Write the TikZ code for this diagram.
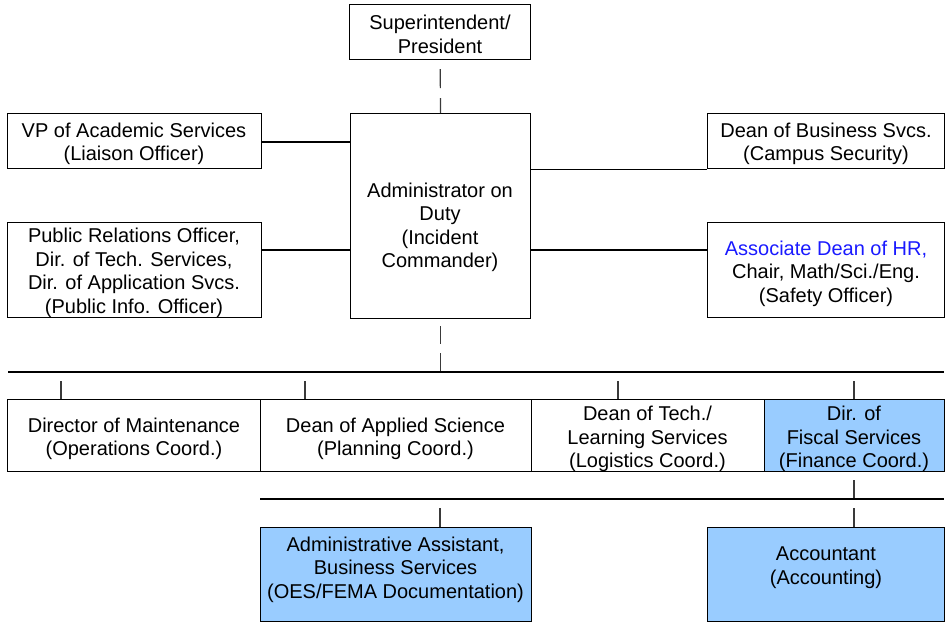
\documentclass[tikz,border=0pt]{standalone}
\usepackage{fontspec}
\setmainfont{Liberation Sans}
\definecolor{boxblue}{HTML}{99CCFF}
\definecolor{hrblue}{HTML}{1A1AFF}
\definecolor{linkgray}{HTML}{3A3A3A}
\begin{document}
\begin{tikzpicture}[x=1pt,y=-1pt,
  box/.style={draw=black,line width=1.2pt,inner sep=0pt,anchor=north west},
  bluebox/.style={box,fill=boxblue},
  txt/.style={align=center,inner sep=0pt,yshift=-2.5pt,font=\fontsize{20}{23.5}\selectfont},
  link/.style={draw=black,line width=1.2pt},
  tick/.style={draw=linkgray,line width=1.2pt}]
\useasboundingbox (0,0) rectangle (951,624);

% --- command and general staff boxes ---
\node[box,minimum width=181pt,minimum height=55pt]  (sup) at (349,4)   {};
\node[box,minimum width=180pt,minimum height=205pt] (adm) at (350,113) {};
\node[box,minimum width=254pt,minimum height=55pt]  (vp)  at (7,113)   {};
\node[box,minimum width=254pt,minimum height=95pt]  (pr)  at (7,222)   {};
\node[box,minimum width=237pt,minimum height=55pt]  (dbs) at (707,113) {};
\node[box,minimum width=237pt,minimum height=95pt]  (hr)  at (707,222) {};

% --- section chiefs ---
\node[box,minimum width=253pt,minimum height=72pt]     (ops) at (7,399)   {};
\node[box,minimum width=271pt,minimum height=72pt]     (pln) at (260,399) {};
\node[box,minimum width=233pt,minimum height=72pt]     (log) at (531,399) {};
\node[bluebox,minimum width=180pt,minimum height=72pt] (fin) at (764,399) {};

% --- finance units ---
\node[bluebox,minimum width=271pt,minimum height=94pt] (doc) at (260,527) {};
\node[bluebox,minimum width=237pt,minimum height=94pt] (acc) at (707,527) {};

% --- labels ---
\node[txt] (supT) at (440,32)    {Superintendent/\\President};
\node[txt] (admT) at (440,225)   {Administrator on\\Duty\\(Incident\\Commander)};
\node[txt] (vpT)  at (134,141.5) {VP of Academic Services\\(Liaison Officer)};
\node[txt] (prT)  at (134,270.5) {Public Relations Officer,\\Dir. of Tech. Services,\\Dir. of Application Svcs.\\(Public Info. Officer)};
\node[txt] (dbsT) at (826,141.5) {Dean of Business Svcs.\\(Campus Security)};
\node[txt] (hrT)  at (826,271)   {\textcolor{hrblue}{Associate Dean of HR,}\\Chair, Math/Sci./Eng.\\(Safety Officer)};
\node[txt] (opsT) at (134,436.5) {Director of Maintenance\\(Operations Coord.)};
\node[txt] (plnT) at (395.5,436.5) {Dean of Applied Science\\(Planning Coord.)};
\node[txt] (logT) at (647.5,436.5) {Dean of Tech./\\Learning Services\\(Logistics Coord.)};
\node[txt] (finT) at (854,436.5) {Dir. of\\Fiscal Services\\(Finance Coord.)};
\node[txt] (docT) at (395.5,567) {Administrative Assistant,\\Business Services\\(OES/FEMA Documentation)};
\node[txt] (accT) at (826,565)   {Accountant\\(Accounting)};

% --- chain of command down the middle ---
\draw[tick,dash pattern={on 0pt off 9pt on 19pt off 10pt on 16pt off 0pt}]
  (sup.south) -- (adm.north);
\coordinate (busL) at (8,372);
\coordinate (busR) at (944,372);
\draw[tick,dash pattern={on 0pt off 7pt on 18pt off 9pt on 20pt off 0pt}]
  (adm.south) -- (adm.south |- busL);
\draw[link] (busL) -- (busR);

% --- command staff links ---
\coordinate (vpL) at (261,142);
\coordinate (prL) at (261,250);
\coordinate (hrL) at (707,250);
\draw[link] (vpL) -- (vpL -| adm.west);
\draw[link] (prL) -- (prL -| adm.west);
\draw[link] (adm.east |- dbs.south) -- (dbs.south west);
\draw[link] (adm.east |- hrL) -- (hrL);

% --- drops from the general staff bus ---
\coordinate (d1) at (61,381);
\coordinate (d2) at (305,381);
\coordinate (d3) at (618,381);
\coordinate (d4) at (854,381);
\draw[tick] (d1) -- (d1 |- ops.north);
\draw[tick] (d2) -- (d2 |- pln.north);
\draw[tick] (d3) -- (d3 |- log.north);
\draw[tick] (d4) -- (d4 |- fin.north);

% --- finance section units ---
\coordinate (fbL) at (260,499);
\coordinate (fbR) at (944,499);
\coordinate (fUp) at (854,480);
\coordinate (u1) at (440,508);
\coordinate (u2) at (854,508);
\draw[tick] (fUp) -- (fUp |- fbL);
\draw[link] (fbL) -- (fbR);
\draw[tick] (u1) -- (u1 |- doc.north);
\draw[tick] (u2) -- (u2 |- acc.north);
\end{tikzpicture}
\end{document}
